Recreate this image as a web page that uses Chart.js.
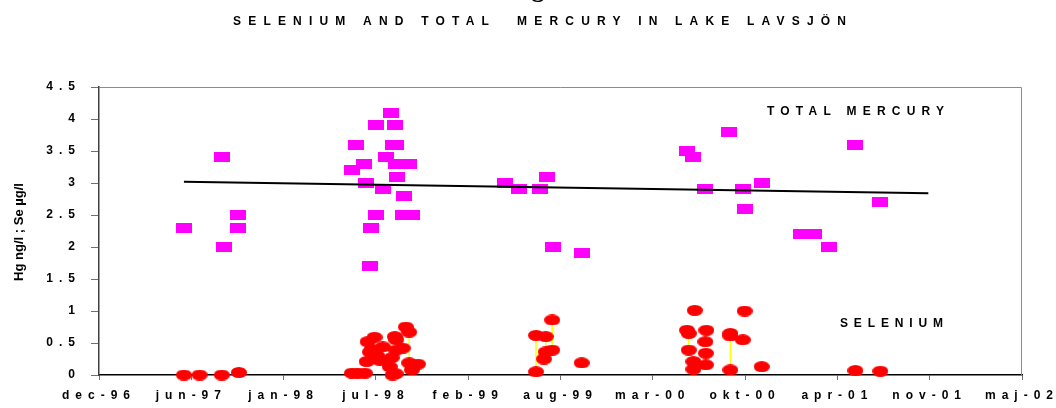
<!DOCTYPE html>
<html>
<head>
<meta charset="utf-8">
<script src="https://cdn.jsdelivr.net/npm/chart.js@4.4.1/dist/chart.umd.min.js"></script>
<style>
  html, body { margin: 0; padding: 0; background: #fff; }
  #wrap { width: 1056px; height: 408px; }
</style>
</head>
<body>
<div id="wrap"><canvas id="chart" width="1056" height="408"></canvas></div>
<script>
// axis ticks (Excel date axis: 1 dec 1996 + n*200 days)
const xTickLabels = ["dec-96", "jun-97", "jan-98", "jul-98", "feb-99", "aug-99", "mar-00", "okt-00", "apr-01", "nov-01", "maj-02"];
const yTickLabels = ["0", "0.5", "1", "1.5", "2", "2.5", "3", "3.5", "4", "4.5"];

// total mercury, ng/l
const hgDates = [
  "1997-06-03", "1997-08-24", "1997-08-28", "1997-09-28", "1997-09-28",
  "1998-06-02", "1998-06-10", "1998-06-28", "1998-07-02", "1998-07-11", "1998-07-13",
  "1998-07-24", "1998-07-25", "1998-08-08", "1998-08-14", "1998-08-25", "1998-08-29",
  "1998-09-03", "1998-09-05", "1998-09-05", "1998-09-07", "1998-09-20", "1998-09-22",
  "1998-10-03", "1998-10-10",
  "1999-04-29", "1999-05-30", "1999-07-14", "1999-07-29", "1999-08-11", "1999-10-13",
  "2000-05-28", "2000-06-11", "2000-07-07", "2000-08-28", "2000-09-26", "2000-09-30", "2000-11-06",
  "2001-01-31", "2001-02-28", "2001-03-31", "2001-05-28", "2001-07-21"
];
const hgValues = [
  2.3, 3.4, 2.0, 2.3, 2.5,
  3.2, 3.6, 3.3, 3.0, 1.7, 2.3,
  2.5, 3.9, 2.9, 3.4, 4.1, 3.6,
  3.9, 3.6, 3.3, 3.1, 2.5, 2.8,
  3.3, 2.5,
  3.0, 2.9, 2.9, 3.1, 2.0, 1.9,
  3.5, 3.4, 2.9, 3.8, 2.9, 2.6, 3.0,
  2.2, 2.2, 2.0, 3.6, 2.7
];

// selenium, µg/l (several depths per sampling date)
const seDates = [
  "1997-06-03", "1997-07-07", "1997-08-24", "1997-09-30",
  "1998-06-02", "1998-06-15", "1998-06-30", "1998-07-04", "1998-07-06", "1998-07-11",
  "1998-07-15", "1998-07-21", "1998-07-26", "1998-08-01", "1998-08-08", "1998-08-23",
  "1998-08-27", "1998-08-29", "1998-09-03", "1998-09-05", "1998-09-06", "1998-09-20",
  "1998-09-27", "1998-10-04", "1998-10-10", "1998-10-23",
  "1999-07-06", "1999-07-23", "1999-07-27", "1999-08-10", "1999-10-13",
  "2000-05-28", "2000-06-01", "2000-06-11", "2000-06-14", "2000-07-07", "2000-07-08",
  "2000-07-09", "2000-08-30", "2000-09-26", "2000-09-30", "2000-11-06",
  "2001-05-28", "2001-07-21"
];
const seValues = [
  [0.0], [0.0], [0.0], [0.04],
  [0.03], [0.03], [0.03], [0.21], [0.52], [0.36],
  [0.40], [0.59], [0.31], [0.23], [0.44], [0.13],
  [0.27], [0.0], [0.60], [0.02], [0.55, 0.39], [0.42],
  [0.75], [0.67, 0.19], [0.08], [0.17],
  [0.05, 0.62], [0.25], [0.60, 0.36], [0.86, 0.39], [0.19],
  [0.70], [0.65, 0.39], [0.21, 0.09], [1.01], [0.52], [0.34, 0.16],
  [0.70], [0.65, 0.61, 0.08], [0.55], [1.0], [0.13],
  [0.07], [0.06]
];

// linear trend of total mercury
const trendDates = ["1997-06-03", "2001-11-02"];
const trendValues = [3.02, 2.84];

const FONT = "'Liberation Sans', Arial, sans-serif";
const axisStart = Date.UTC(1996, 11, 1);
const toDay = d => (Date.parse(d) - axisStart) / 86400000;

const hgData = hgDates.map((d, i) => ({ x: toDay(d), y: hgValues[i] }));
const trendData = trendDates.map((d, i) => ({ x: toDay(d), y: trendValues[i] }));
const seData = [];
seDates.forEach((d, i) => {
  seValues[i].forEach(v => seData.push({ x: toDay(d), y: v }));
  seData.push({ x: toDay(d), y: null });
});

function marker(w, h, color, round) {
  const c = document.createElement("canvas");
  c.width = w; c.height = h;
  const g = c.getContext("2d");
  g.fillStyle = color;
  if (round) {
    g.beginPath();
    g.ellipse(w / 2, h / 2, w / 2, h / 2, 0, 0, Math.PI * 2);
    g.fill();
  } else {
    g.fillRect(0, 0, w, h);
  }
  return c;
}

function spacedText(ctx, text, x, y, width) {
  ctx.letterSpacing = "0px";
  const w0 = ctx.measureText(text).width;
  ctx.letterSpacing = ((width - w0) / (text.length - 1)) + "px";
  ctx.fillText(text, x, y);
}

const textPlugin = {
  id: "texts",
  beforeDraw(chart) {
    chart.ctx.letterSpacing = "6px";
  },
  afterDraw(chart) {
    const ctx = chart.ctx;
    const a = chart.chartArea;
    ctx.save();
    ctx.strokeStyle = "#8c8c8c";
    ctx.lineWidth = 1;
    ctx.beginPath();
    ctx.moveTo(a.left, a.top + 0.5);
    ctx.lineTo(a.right - 0.5, a.top + 0.5);
    ctx.lineTo(a.right - 0.5, a.bottom);
    ctx.stroke();

    ctx.fillStyle = "#000";
    ctx.textAlign = "left";
    ctx.textBaseline = "alphabetic";
    ctx.font = "bold 12px " + FONT;
    spacedText(ctx, "SELENIUM AND TOTAL  MERCURY IN LAKE LAVSJÖN", 233, 25, 613);
    spacedText(ctx, "TOTAL MERCURY", 767, 115, 177);
    spacedText(ctx, "SELENIUM", 840, 327, 103);

    ctx.letterSpacing = "0px";
    ctx.font = "bold 26px 'Liberation Serif', 'Times New Roman', serif";
    ctx.textAlign = "center";
    ctx.fillText("g", 538, -3);

    ctx.font = "bold 13px " + FONT;
    ctx.translate(19, 232);
    ctx.rotate(-Math.PI / 2);
    ctx.textAlign = "center";
    ctx.textBaseline = "middle";
    ctx.fillText("Hg ng/l ; Se µg/l", 0, 0);
    ctx.restore();
  }
};

new Chart(document.getElementById("chart"), {
  type: "scatter",
  data: {
    datasets: [
      {
        label: "Trend",
        data: trendData,
        showLine: true,
        borderColor: "#000",
        borderWidth: 2,
        pointRadius: 0,
        clip: false
      },
      {
        label: "Total mercury",
        data: hgData,
        pointStyle: marker(16, 10, "#ff00ff", false),
        clip: false
      },
      {
        label: "Selenium",
        data: seData,
        showLine: true,
        spanGaps: false,
        borderColor: "#ffff00",
        borderWidth: 1.5,
        pointStyle: marker(16, 11, "#ff0000", true),
        clip: false
      }
    ]
  },
  options: {
    responsive: false,
    animation: false,
    devicePixelRatio: 1,
    layout: { padding: { left: 0, top: 87, right: 34, bottom: 0 } },
    plugins: { legend: { display: false }, tooltip: { enabled: false } },
    scales: {
      x: {
        type: "linear",
        min: 0,
        max: 2000,
        ticks: {
          stepSize: 200,
          autoSkip: false,
          maxRotation: 0,
          color: "#000",
          padding: 8,
          font: { family: FONT, size: 12, weight: "bold" },
          callback: (v, i) => xTickLabels[i]
        },
        grid: { drawOnChartArea: false, tickLength: 5, color: "#707070" },
        border: { color: "#000", width: 1.5 },
        afterFit: s => { s.height = 33; s.paddingLeft = 0; s.paddingRight = 0; }
      },
      y: {
        min: 0,
        max: 4.5,
        ticks: {
          stepSize: 0.5,
          color: "#000",
          padding: 10,
          font: { family: FONT, size: 12, weight: "bold" },
          callback: (v, i) => yTickLabels[i]
        },
        grid: { drawOnChartArea: false, tickLength: 8, color: "#707070" },
        border: { color: "#404040", width: 1.5 },
        afterFit: s => { s.width = 99; s.paddingTop = 0; s.paddingBottom = 0; }
      }
    }
  },
  plugins: [textPlugin]
});
</script>
</body>
</html>
